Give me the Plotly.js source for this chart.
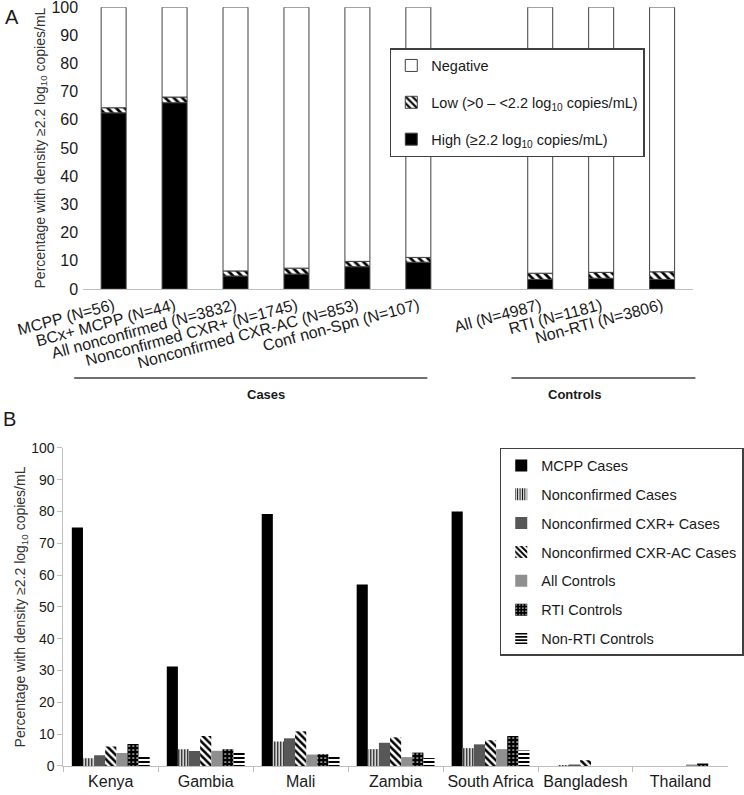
<!DOCTYPE html>
<html>
<head>
<meta charset="utf-8">
<script src="https://cdn.plot.ly/plotly-3.0.1.min.js"></script>
<style>html,body{margin:0;padding:0;background:#fff;}#chart{width:744px;height:795px;}</style>
</head>
<body>
<div id="chart"></div>
<script>
// ---------- Panel A data ----------
const categoriesA = ['MCPP (N=56)', 'BCx+ MCPP (N=44)', 'All nonconfirmed (N=3832)', 'Nonconfirmed CXR+ (N=1745)',
  'Nonconfirmed CXR-AC (N=853)', 'Conf non-Spn (N=107)', ' ', 'All (N=4987)', 'RTI (N=1181)', 'Non-RTI (N=3806)'];
const highA = [62.5, 66.1, 4.6, 5.3, 7.9, 9.5, null, 3.4, 3.8, 3.4];
const lowA = [1.8, 2.0, 1.8, 2.1, 1.9, 1.7, null, 2.2, 2.1, 2.7];
const negativeA = [35.7, 31.9, 93.6, 92.6, 90.2, 88.8, null, 94.4, 94.1, 93.9];

// ---------- Panel B data ----------
const countries = ['Kenya', 'Gambia', 'Mali', 'Zambia', 'South Africa', 'Bangladesh', 'Thailand'];
const mcppCases = [75.0, 31.3, 79.2, 57.1, 80.0, 0, 0];
const nonconfirmedCases = [2.4, 5.3, 7.7, 5.3, 5.6, 0.3, 0];
const nonconfCxrPos = [3.4, 4.7, 8.7, 7.3, 6.8, 0.5, 0];
const nonconfCxrAC = [6.1, 9.4, 10.9, 9.0, 8.1, 1.8, 0];
const allControls = [4.1, 4.8, 3.6, 2.8, 5.3, 0, 0.5];
const rtiControls = [6.9, 5.3, 3.7, 4.2, 9.4, 0, 0.8];
const nonRtiControls = [3.3, 4.6, 3.4, 2.5, 4.9, 0, 0];

const FONT = 'Arial, "Liberation Sans", sans-serif';
const outline = {color: '#404040', width: 1};

const baseLow = highA.map(v => v);
const baseNeg = highA.map((v, i) => v === null ? null : v + lowA[i]);

const traces = [
  {type: 'bar', name: 'High (≥2.2 log<sub>10</sub> copies/mL)', x: categoriesA, y: highA, base: 0,
   xaxis: 'x', yaxis: 'y', offsetgroup: 'A', width: 0.41, legend: 'legend', legendgroup: 'a1', legendrank: 3,
   marker: {color: '#000000', line: outline}},
  {type: 'bar', name: 'Low (>0 – <2.2 log<sub>10</sub> copies/mL)', x: categoriesA, y: lowA, base: baseLow,
   xaxis: 'x', yaxis: 'y', offsetgroup: 'A', width: 0.41, legend: 'legend', legendgroup: 'a2', legendrank: 2,
   marker: {color: '#ffffff', line: outline, pattern: {shape: '\\', fgcolor: '#000000', bgcolor: '#ffffff', size: 6, solidity: 0.45}}},
  {type: 'bar', name: 'Negative', x: categoriesA, y: negativeA, base: baseNeg,
   xaxis: 'x', yaxis: 'y', offsetgroup: 'A', width: 0.41, legend: 'legend', legendgroup: 'a3', legendrank: 1,
   marker: {color: '#ffffff', line: outline}},

  {type: 'bar', name: 'MCPP Cases', x: countries, y: mcppCases, xaxis: 'x2', yaxis: 'y2', legend: 'legend2', legendgroup: 'b1',
   marker: {color: '#000000', line: {width: 0}}},
  {type: 'bar', name: 'Nonconfirmed Cases', x: countries, y: nonconfirmedCases, xaxis: 'x2', yaxis: 'y2', legend: 'legend2', legendgroup: 'b2',
   marker: {color: '#ffffff', line: {width: 0}, pattern: {shape: '|', fgcolor: '#000000', bgcolor: '#ffffff', size: 3, solidity: 0.45}}},
  {type: 'bar', name: 'Nonconfirmed CXR+ Cases', x: countries, y: nonconfCxrPos, xaxis: 'x2', yaxis: 'y2', legend: 'legend2', legendgroup: 'b3',
   marker: {color: '#575757', line: {width: 0}}},
  {type: 'bar', name: 'Nonconfirmed CXR-AC Cases', x: countries, y: nonconfCxrAC, xaxis: 'x2', yaxis: 'y2', legend: 'legend2', legendgroup: 'b4',
   marker: {color: '#ffffff', line: {width: 0}, pattern: {shape: '\\', fgcolor: '#000000', bgcolor: '#ffffff', size: 5, solidity: 0.5}}},
  {type: 'bar', name: 'All Controls', x: countries, y: allControls, xaxis: 'x2', yaxis: 'y2', legend: 'legend2', legendgroup: 'b5',
   marker: {color: '#8f8f8f', line: {width: 0}}},
  {type: 'bar', name: 'RTI Controls', x: countries, y: rtiControls, xaxis: 'x2', yaxis: 'y2', legend: 'legend2', legendgroup: 'b6',
   marker: {color: '#000000', line: {width: 0}, pattern: {shape: '.', fgcolor: '#ffffff', bgcolor: '#000000', size: 4, solidity: 0.15}}},
  {type: 'bar', name: 'Non-RTI Controls', x: countries, y: nonRtiControls, xaxis: 'x2', yaxis: 'y2', legend: 'legend2', legendgroup: 'b7',
   marker: {color: '#ffffff', line: {width: 0}, pattern: {shape: '-', fgcolor: '#000000', bgcolor: '#ffffff', size: 4, solidity: 0.5}}}
];

const yTitle = 'Percentage with density ≥2.2 log<sub>10</sub> copies/mL';

const layout = {
  width: 744, height: 795,
  margin: {l: 0, r: 0, t: 0, b: 0},
  paper_bgcolor: '#ffffff', plot_bgcolor: '#ffffff',
  font: {family: FONT, color: '#1a1a1a'},
  barmode: 'group', bargap: 0.18, bargroupgap: 0,
  hovermode: false,
  xaxis: {domain: [0.113, 0.941], anchor: 'y', type: 'category', categoryorder: 'array', categoryarray: categoriesA,
    range: [-0.5, 9.5], tickangle: -15, tickfont: {size: 16, color: '#1a1a1a'}, showline: true, linecolor: '#bfbfbf',
    linewidth: 1.5, ticks: '', showgrid: false, zeroline: false, fixedrange: true},
  yaxis: {domain: [0.6365, 0.991], anchor: 'x', range: [0, 100], dtick: 10, showgrid: false, zeroline: false,
    showline: false, ticks: '', ticklabelstandoff: 4, ticklabeloverflow: 'allow', tickfont: {size: 16, color: '#1a1a1a'},
    title: {text: yTitle, font: {size: 14, color: '#333333'}}},
  xaxis2: {domain: [0.086, 0.989], anchor: 'y2', type: 'category', tickson: 'boundaries', ticks: 'outside', ticklen: 5,
    tickangle: 0, tickcolor: '#bfbfbf', showline: true, linecolor: '#bfbfbf', linewidth: 1.5, showgrid: false, zeroline: false,
    ticklabeloverflow: 'allow', tickfont: {size: 16, color: '#1a1a1a'}},
  yaxis2: {domain: [0.0365, 0.4365], anchor: 'x2', range: [0, 100], dtick: 10, showgrid: false, zeroline: false,
    showline: true, linecolor: '#bfbfbf', linewidth: 1, ticks: 'outside', ticklen: 5, tickcolor: '#bfbfbf',
    tickfont: {size: 14, color: '#1a1a1a'}, title: {text: yTitle, font: {size: 14, color: '#333333'}}},
  legend: {x: 0.5296, y: 0.9396, xanchor: 'left', yanchor: 'top', bgcolor: '#ffffff', bordercolor: '#404040',
    borderwidth: 1.5, font: {size: 14.5, color: '#1a1a1a'}, traceorder: 'grouped', tracegroupgap: 15},
  legend2: {x: 0.679, y: 0.4365, xanchor: 'left', yanchor: 'top', bgcolor: '#ffffff', bordercolor: '#404040',
    borderwidth: 1.5, font: {size: 14.5, color: '#1a1a1a'}, traceorder: 'grouped', tracegroupgap: 7},
  shapes: [
    {type: 'line', xref: 'paper', yref: 'paper', x0: 0.1008, x1: 0.5806, y0: 0.5245, y1: 0.5245, line: {color: '#404040', width: 1.5}},
    {type: 'line', xref: 'paper', yref: 'paper', x0: 0.6949, x1: 0.9449, y0: 0.5245, y1: 0.5245, line: {color: '#404040', width: 1.5}}
  ],
  annotations: [
    {text: '<b>Cases</b>', xref: 'paper', yref: 'paper', x: 0.3333, y: 0.5044, showarrow: false, font: {size: 13}},
    {text: '<b>Controls</b>', xref: 'paper', yref: 'paper', x: 0.8199, y: 0.5044, showarrow: false, font: {size: 13}},
    {text: 'A', xref: 'paper', yref: 'paper', x: 0.004, y: 0.995, xanchor: 'left', yanchor: 'top', showarrow: false, font: {size: 20}},
    {text: 'B', xref: 'paper', yref: 'paper', x: 0.002, y: 0.489, xanchor: 'left', yanchor: 'top', showarrow: false, font: {size: 20}}
  ]
};

Plotly.newPlot('chart', traces, layout, {displayModeBar: false, staticPlot: true});
</script>
</body>
</html>
